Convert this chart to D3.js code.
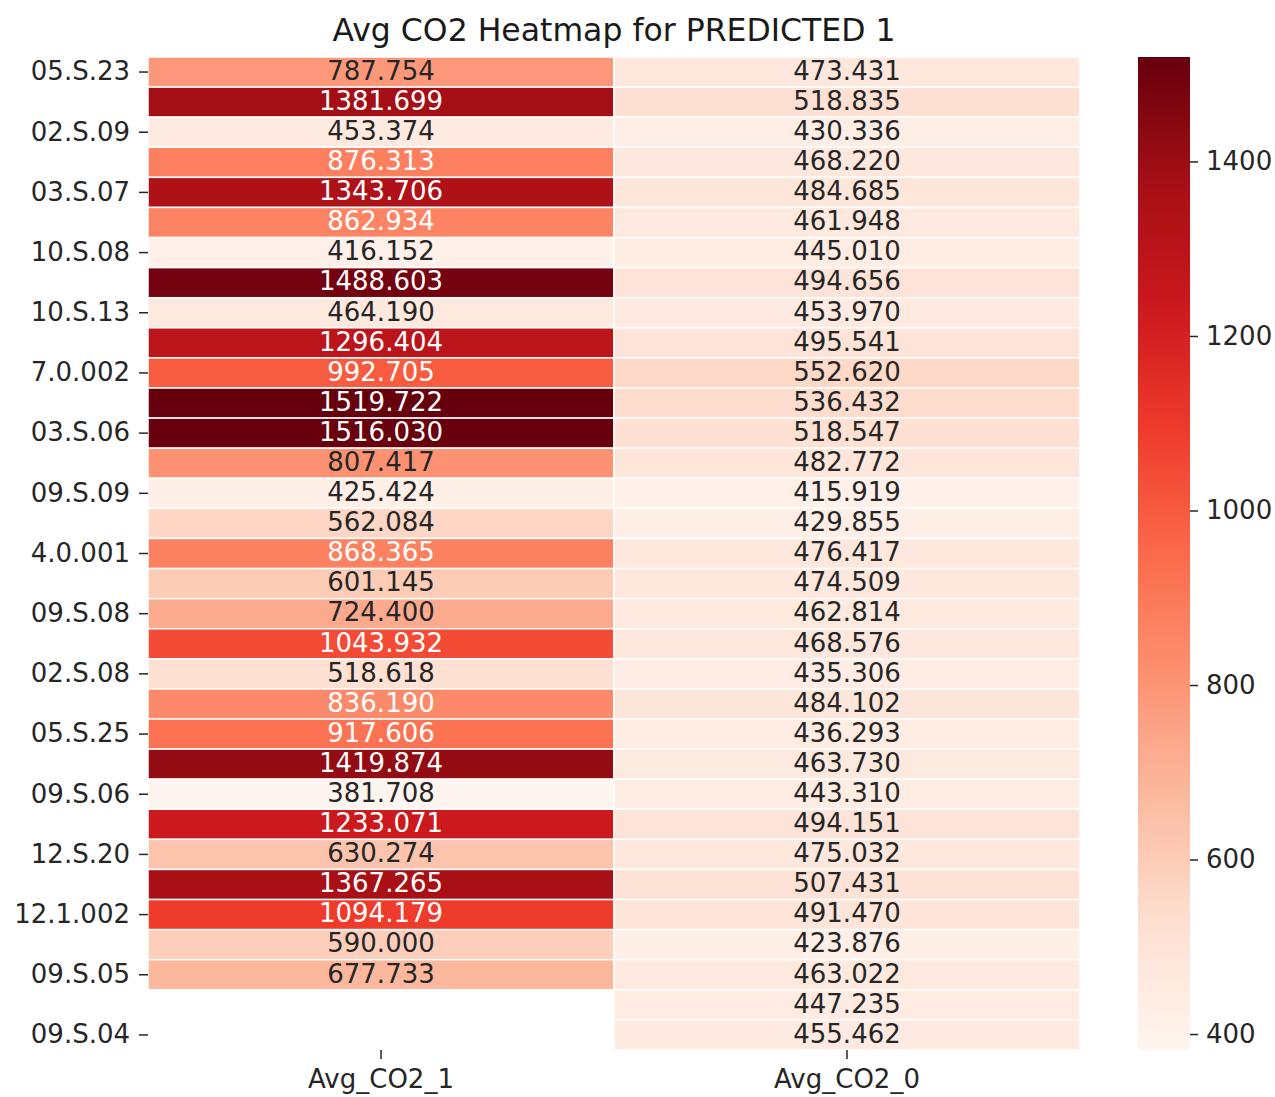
<!DOCTYPE html>
<html>
<head>
<meta charset="utf-8">
<script src="https://cdn.jsdelivr.net/npm/d3@7"></script>
<style>
  body { margin: 0; background: #fff; }
  text { font-family: "DejaVu Sans", sans-serif; }
</style>
</head>
<body>
<svg id="chart" width="1275" height="1097"></svg>
<script>
// data (top row first)
const columns = ["Avg_CO2_1", "Avg_CO2_0"];

const avgCO2_1 = [787.754, 1381.699, 453.374, 876.313, 1343.706, 862.934, 416.152, 1488.603,
  464.190, 1296.404, 992.705, 1519.722, 1516.030, 807.417, 425.424, 562.084, 868.365,
  601.145, 724.400, 1043.932, 518.618, 836.190, 917.606, 1419.874, 381.708, 1233.071,
  630.274, 1367.265, 1094.179, 590.000, 677.733, null, null];

const avgCO2_0 = [473.431, 518.835, 430.336, 468.220, 484.685, 461.948, 445.010, 494.656,
  453.970, 495.541, 552.620, 536.432, 518.547, 482.772, 415.919, 429.855, 476.417,
  474.509, 462.814, 468.576, 435.306, 484.102, 436.293, 463.730, 443.310, 494.151,
  475.032, 507.431, 491.470, 423.876, 463.022, 447.235, 455.462];

// only every other row gets a label
const yTickLabels = ["05.S.23", "02.S.09", "03.S.07", "10.S.08", "10.S.13", "7.0.002",
  "03.S.06", "09.S.09", "4.0.001", "09.S.08", "02.S.08", "05.S.25", "09.S.06",
  "12.S.20", "12.1.002", "09.S.05", "09.S.04"];

const cbarTicks = [400, 600, 800, 1000, 1200, 1400];

// matplotlib "Reds"
const redsColors = ["#fff5f0", "#fee0d2", "#fcbba1", "#fc9272", "#fb6a4a",
  "#ef3b2c", "#cb181d", "#a50f15", "#67000d"];

var svg = d3.select("#chart");
// note: "top" clashes with window.top, so prefixed names
var mLeft = 148, mRight = 1080, mTop = 57, mBottom = 1050;
var fs = 26;

var nRows = avgCO2_0.length;
var rows = d3.range(nRows);
var series = [avgCO2_1, avgCO2_0];

var allVals = avgCO2_1.concat(avgCO2_0).filter(v => v != null);
var vmin = d3.min(allVals), vmax = d3.max(allVals);

var interp = d3.piecewise(d3.interpolateRgb, redsColors);
var color = d3.scaleSequential(interp).domain([vmin, vmax]);

var x = d3.scaleBand().domain(columns).range([mLeft, mRight]);
var y = d3.scaleBand().domain(rows).range([mTop, mBottom]);

// seaborn-style text colour from luminance
function lum(c) {
  var rgb = d3.rgb(c);
  var lin = [rgb.r, rgb.g, rgb.b].map(v => {
    v = v / 255;
    return v <= 0.03928 ? v / 12.92 : Math.pow((v + 0.055) / 1.055, 2.4);
  });
  return 0.2126 * lin[0] + 0.7152 * lin[1] + 0.0722 * lin[2];
}

var cells = [];
columns.forEach((col, ci) => {
  series[ci].forEach((v, ri) => {
    if (v != null) cells.push({ col: col, row: ri, value: v });
  });
});

var g = svg.append("g");

g.selectAll("rect.cell")
  .data(cells)
  .enter()
  .append("rect")
  .attr("class", "cell")
  .attr("x", d => x(d.col))
  .attr("y", d => y(d.row))
  .attr("width", x.bandwidth())
  .attr("height", y.bandwidth())
  .attr("fill", d => color(d.value))
  .attr("stroke", "#fff")
  .attr("stroke-width", 1.5);

g.selectAll("text.annot")
  .data(cells)
  .enter()
  .append("text")
  .attr("class", "annot")
  .attr("x", d => x(d.col) + x.bandwidth() / 2)
  .attr("y", d => y(d.row) + y.bandwidth() / 2)
  .attr("dy", "0.3em")
  .attr("text-anchor", "middle")
  .attr("font-size", fs)
  .attr("fill", d => lum(color(d.value)) > 0.408 ? "#262626" : "#fff")
  .text(d => d.value.toFixed(3));

// y axis
var yAxis = d3.axisLeft(y)
  .tickValues(rows.filter(r => r % 2 === 0))
  .tickFormat(r => yTickLabels[r / 2])
  .tickSize(9)
  .tickPadding(9);

var yg = svg.append("g").attr("transform", "translate(" + mLeft + ",0)").call(yAxis);
yg.select(".domain").remove();
yg.selectAll("text").attr("font-size", fs).attr("fill", "#262626").attr("font-family", "DejaVu Sans");
yg.selectAll("line").attr("stroke", "#262626").attr("stroke-width", 1.5);

// x axis
var xAxis = d3.axisBottom(x).tickSize(9).tickPadding(11);
var xg = svg.append("g").attr("transform", "translate(0," + mBottom + ")").call(xAxis);
xg.select(".domain").remove();
xg.selectAll("text").attr("font-size", fs).attr("fill", "#262626").attr("font-family", "DejaVu Sans");
xg.selectAll("line").attr("stroke", "#262626").attr("stroke-width", 1.5);

// title
svg.append("text")
  .attr("x", (mLeft + mRight) / 2)
  .attr("y", 41)
  .attr("text-anchor", "middle")
  .attr("font-size", 31.5)
  .attr("fill", "#1a1a1a")
  .text("Avg CO2 Heatmap for PREDICTED 1");

// colorbar
var cbX = 1138, cbW = 52;
var cy = d3.scaleLinear().domain([vmin, vmax]).range([mBottom, mTop]);

var grad = svg.append("defs").append("linearGradient")
  .attr("id", "cbgrad")
  .attr("x1", 0).attr("y1", 1).attr("x2", 0).attr("y2", 0);
d3.range(0, 1.0001, 0.02).forEach(t => {
  grad.append("stop").attr("offset", t).attr("stop-color", interp(t));
});

svg.append("rect")
  .attr("x", cbX)
  .attr("y", mTop)
  .attr("width", cbW)
  .attr("height", mBottom - mTop)
  .attr("fill", "url(#cbgrad)");

var cAxis = d3.axisRight(cy).tickValues(cbarTicks).tickFormat(d3.format("d"))
  .tickSize(8).tickPadding(8);
var cg = svg.append("g").attr("transform", "translate(" + (cbX + cbW) + ",0)").call(cAxis);
cg.select(".domain").remove();
cg.selectAll("text").attr("font-size", fs).attr("fill", "#262626").attr("font-family", "DejaVu Sans");
cg.selectAll("line").attr("stroke", "#262626").attr("stroke-width", 1.5);
</script>
</body>
</html>
